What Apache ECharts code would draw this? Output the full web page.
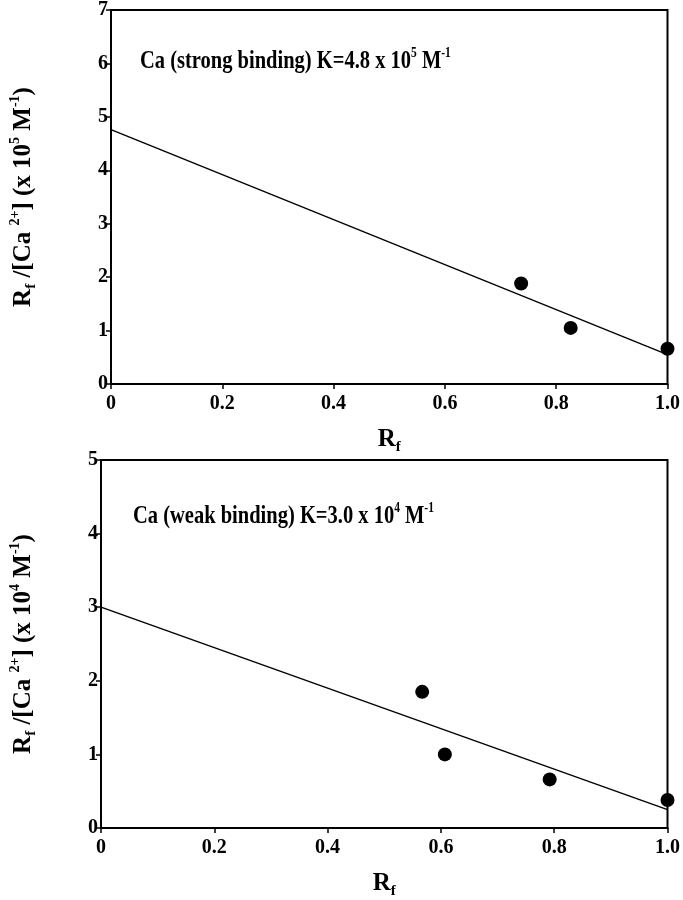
<!DOCTYPE html>
<html><head><meta charset="utf-8">
<script src="https://cdn.jsdelivr.net/npm/echarts@6/dist/echarts.min.js"></script>
<style>html,body{margin:0;padding:0;background:#fff;overflow:hidden}#c{width:683px;height:900px}</style>
</head><body><div id="c"></div>
<script>
// ---- data ----
const xTickValues = [0, 0.2, 0.4, 0.6, 0.8, 1.0];
const xTickLabels = ['0', '0.2', '0.4', '0.6', '0.8', '1.0'];
const topX = [0.737, 0.826, 1.0];
const topY = [1.88, 1.05, 0.66];
const topFitX = [0, 1.0];
const topFitY = [4.76, 0.55];
const botX = [0.567, 0.607, 0.792, 1.0];
const botY = [1.85, 1.0, 0.66, 0.38];
const botFitX = [0, 1.0];
const botFitY = [3.0, 0.25];
const topYMax = 7;
const botYMax = 5;
const topTitle = '{n|Ca (strong binding) K=4.8 x 10}{sup|5}{n| M}{sup|-1}';
const botTitle = '{n|Ca (weak binding) K=3.0 x 10}{sup|4}{n| M}{sup|-1}';
const topYName = '{n|R}{sub|f}{n| /[Ca }{sup|2+}{n|] (x 10}{sup|5}{n| M}{sup|-1}{n|)}';
const botYName = '{n|R}{sub|f}{n| /[Ca }{sup|2+}{n|] (x 10}{sup|4}{n| M}{sup|-1}{n|)}';
const xName = '{n|R}{sub|f}';

// ---- styles ----
const FF = '"Liberation Serif", "Times New Roman", serif';
function rich(size) {
  return {
    n: { fontFamily: FF, fontWeight: 'bold', fontSize: size, color: '#000', lineHeight: size + 6, verticalAlign: 'middle' },
    sup: { fontFamily: FF, fontWeight: 'bold', fontSize: Math.round(size * 0.55), color: '#000', lineHeight: Math.round(size * 0.6), verticalAlign: 'top' },
    sub: { fontFamily: FF, fontWeight: 'bold', fontSize: Math.round(size * 0.6), color: '#000', lineHeight: Math.round(size * 0.6), verticalAlign: 'bottom' }
  };
}
const zip = (a, b) => a.map((v, i) => [v, b[i]]);
const xFmt = v => { const i = xTickValues.findIndex(t => Math.abs(t - v) < 1e-6); return i >= 0 ? xTickLabels[i] : ''; };
const labelStyle = { fontFamily: FF, fontWeight: 'bold', fontSize: 20, color: '#000' };
const axisLine = { show: true, lineStyle: { color: '#000', width: 2 } };
const axisTick = { show: true, inside: false, length: 5, lineStyle: { color: '#000', width: 1.5 } };

function xAxis(gi) {
  return {
    type: 'value', gridIndex: gi, min: 0, max: 1, interval: 0.2,
    axisLine, axisTick, splitLine: { show: false },
    axisLabel: Object.assign({ formatter: xFmt, margin: 10 }, labelStyle),
    name: xName, nameLocation: 'middle', nameGap: 40,
    nameTextStyle: { rich: rich(25) }
  };
}
function yAxis(gi, max, name, gap) {
  return {
    type: 'value', gridIndex: gi, min: 0, max: max, interval: 1,
    axisLine, axisTick, splitLine: { show: false },
    axisLabel: Object.assign({ margin: 3 }, labelStyle),
    name: name, nameLocation: 'middle', nameRotate: 90, nameGap: gap,
    nameTextStyle: { rich: rich(25) }
  };
}

const chart = echarts.init(document.getElementById('c'), null, { renderer: 'canvas' });
chart.setOption({
  backgroundColor: '#fff',
  animation: false,
  grid: [
    { left: 104, top: 9, width: 570, height: 375, show: true, borderColor: '#000', borderWidth: 2, backgroundColor: 'transparent' },
    { left: 97, top: 460, width: 571, height: 378, show: true, borderColor: '#000', borderWidth: 2, backgroundColor: 'transparent' }
  ],
  xAxis: [xAxis(0), xAxis(1)],
  yAxis: [yAxis(0, topYMax, topYName, 72), yAxis(1, botYMax, botYName, 62)],
  series: [
    { type: 'line', xAxisIndex: 0, yAxisIndex: 0, data: zip(topFitX, topFitY), symbol: 'none', lineStyle: { color: '#000', width: 1.4 }, z: 2 },
    { type: 'scatter', xAxisIndex: 0, yAxisIndex: 0, data: zip(topX, topY), symbolSize: 14, itemStyle: { color: '#000', opacity: 1 }, clip: false, z: 3 },
    { type: 'line', xAxisIndex: 1, yAxisIndex: 1, data: zip(botFitX, botFitY), symbol: 'none', lineStyle: { color: '#000', width: 1.4 }, z: 2 },
    { type: 'scatter', xAxisIndex: 1, yAxisIndex: 1, data: zip(botX, botY), symbolSize: 14, itemStyle: { color: '#000', opacity: 1 }, clip: false, z: 3 }
  ],
  graphic: [
    { type: 'text', x: 140, y: 46, scaleX: 0.82, style: { text: topTitle, rich: rich(25) } },
    { type: 'text', x: 133, y: 501, scaleX: 0.82, style: { text: botTitle, rich: rich(25) } }
  ]
});
</script>
</body></html>
